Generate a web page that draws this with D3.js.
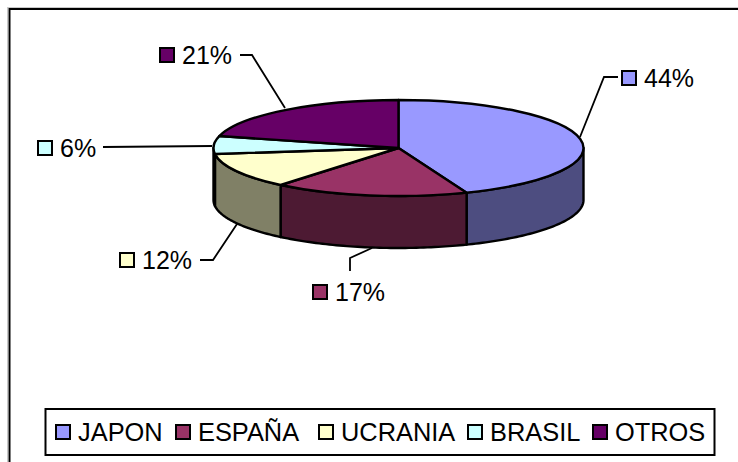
<!DOCTYPE html>
<html lang="en">
<head>
<meta charset="UTF-8">
<title>Pie</title>
<script src="https://d3js.org/d3.v7.min.js"></script>
<style>
    html, body { margin: 0; padding: 0; background: #fff; overflow: hidden; }
    svg { display: block; }
    text { font-family: "Liberation Sans", Arial, sans-serif; fill: #000; }
</style>
</head>
<body>
<svg id="chart" width="738" height="462"></svg>
<script>
    // data
    const categories = ["JAPON", "ESPAÑA", "UCRANIA", "BRASIL", "OTROS"];
    const shares = [44, 17, 12, 6, 21];
    const topColors = ["#9999ff", "#993366", "#ffffcc", "#ccffff", "#660066"];
    const sideColors = ["#4d4d80", "#4d1a33", "#808066", "#668080", "#330033"];

    const svg = d3.select("#chart");

    // chart frame, right and bottom sides fall outside the picture
    svg.append("rect")
        .attr("x", 7.5).attr("y", 7.5)
        .attr("width", 800).attr("height", 600)
        .attr("fill", "none").attr("stroke", "#c8c8c8").attr("stroke-width", 1);
    svg.append("rect")
        .attr("x", 9.5).attr("y", 9)
        .attr("width", 800).attr("height", 600)
        .attr("fill", "#fff").attr("stroke", "#000").attr("stroke-width", 2);

    // pie geometry, squashed circle
    const cx = 398.5, cy = 148, rx = 185, ry = 48, depth = 52;
    const pie = d3.pie().sort(null).value(d => d)(shares);
    const ex = a => cx + rx * Math.sin(a);
    const ey = a => cy - ry * Math.cos(a);

    // outside wall, only the part facing us
    const wall = (a0, a1) => {
        const from = Math.max(a0, Math.PI / 2), to = Math.min(a1, Math.PI * 1.5);
        if (from >= to) return null;
        const steps = d3.range(from, to, 0.02).concat(to);
        const pts = steps.map(a => [ex(a), ey(a)])
            .concat(steps.slice().reverse().map(a => [ex(a), ey(a) + depth]));
        return d3.line()(pts) + "Z";
    };

    const lineW = 2.4;
    svg.append("g").selectAll("path")
        .data(pie)
        .join("path")
        .attr("d", d => wall(d.startAngle, d.endAngle))
        .attr("fill", (d, i) => sideColors[i])
        .attr("stroke", "#000").attr("stroke-width", lineW).attr("stroke-linejoin", "round");

    const arc = d3.arc().innerRadius(0).outerRadius(rx);
    svg.append("g")
        .attr("transform", `translate(${cx},${cy}) scale(1,${ry / rx})`)
        .selectAll("path")
        .data(pie)
        .join("path")
        .attr("d", arc)
        .attr("fill", (d, i) => topColors[i])
        .attr("stroke", "#000").attr("stroke-width", lineW)
        .attr("vector-effect", "non-scaling-stroke").attr("stroke-linejoin", "round");

    // data labels, swatch left edge and text baseline, then leader polyline
    const labelLayout = [
        {x: 621, y: 87, leader: [[618, 77], [604, 77], [580, 137]]},
        {x: 312, y: 301, leader: [[350, 271], [350, 258], [372, 248]]},
        {x: 119, y: 269, leader: [[200, 260], [213, 260], [237, 224]]},
        {x: 37, y: 157, leader: [[103, 147], [212, 146]]},
        {x: 159, y: 64, leader: [[240, 55], [252, 55], [285, 108]]}
    ];

    const labels = svg.append("g").selectAll("g")
        .data(pie)
        .join("g");
    labels.append("path")
        .attr("d", (d, i) => d3.line()(labelLayout[i].leader))
        .attr("fill", "none").attr("stroke", "#000").attr("stroke-width", 1.8);
    labels.append("rect")
        .attr("x", (d, i) => labelLayout[i].x + 1)
        .attr("y", (d, i) => labelLayout[i].y - 16)
        .attr("width", 14).attr("height", 14)
        .attr("fill", (d, i) => topColors[i])
        .attr("stroke", "#000").attr("stroke-width", 2);
    labels.append("text")
        .attr("x", (d, i) => labelLayout[i].x + 23)
        .attr("y", (d, i) => labelLayout[i].y)
        .attr("font-size", 25)
        .text(d => d.value + "%");

    // legend
    const legendX = [55, 175, 318, 467, 592];
    const legend = svg.append("g");
    legend.append("rect")
        .attr("x", 45.5).attr("y", 409)
        .attr("width", 669).attr("height", 46)
        .attr("fill", "#fff").attr("stroke", "#000").attr("stroke-width", 2);
    const items = legend.selectAll("g.item")
        .data(categories)
        .join("g")
        .attr("class", "item")
        .attr("transform", (d, i) => `translate(${legendX[i]},0)`);
    items.append("rect")
        .attr("x", 1).attr("y", 425)
        .attr("width", 14).attr("height", 14)
        .attr("fill", (d, i) => topColors[i])
        .attr("stroke", "#000").attr("stroke-width", 2);
    items.append("text")
        .attr("x", 23).attr("y", 441)
        .attr("font-size", 25.4)
        .text(d => d);
</script>
</body>
</html>
